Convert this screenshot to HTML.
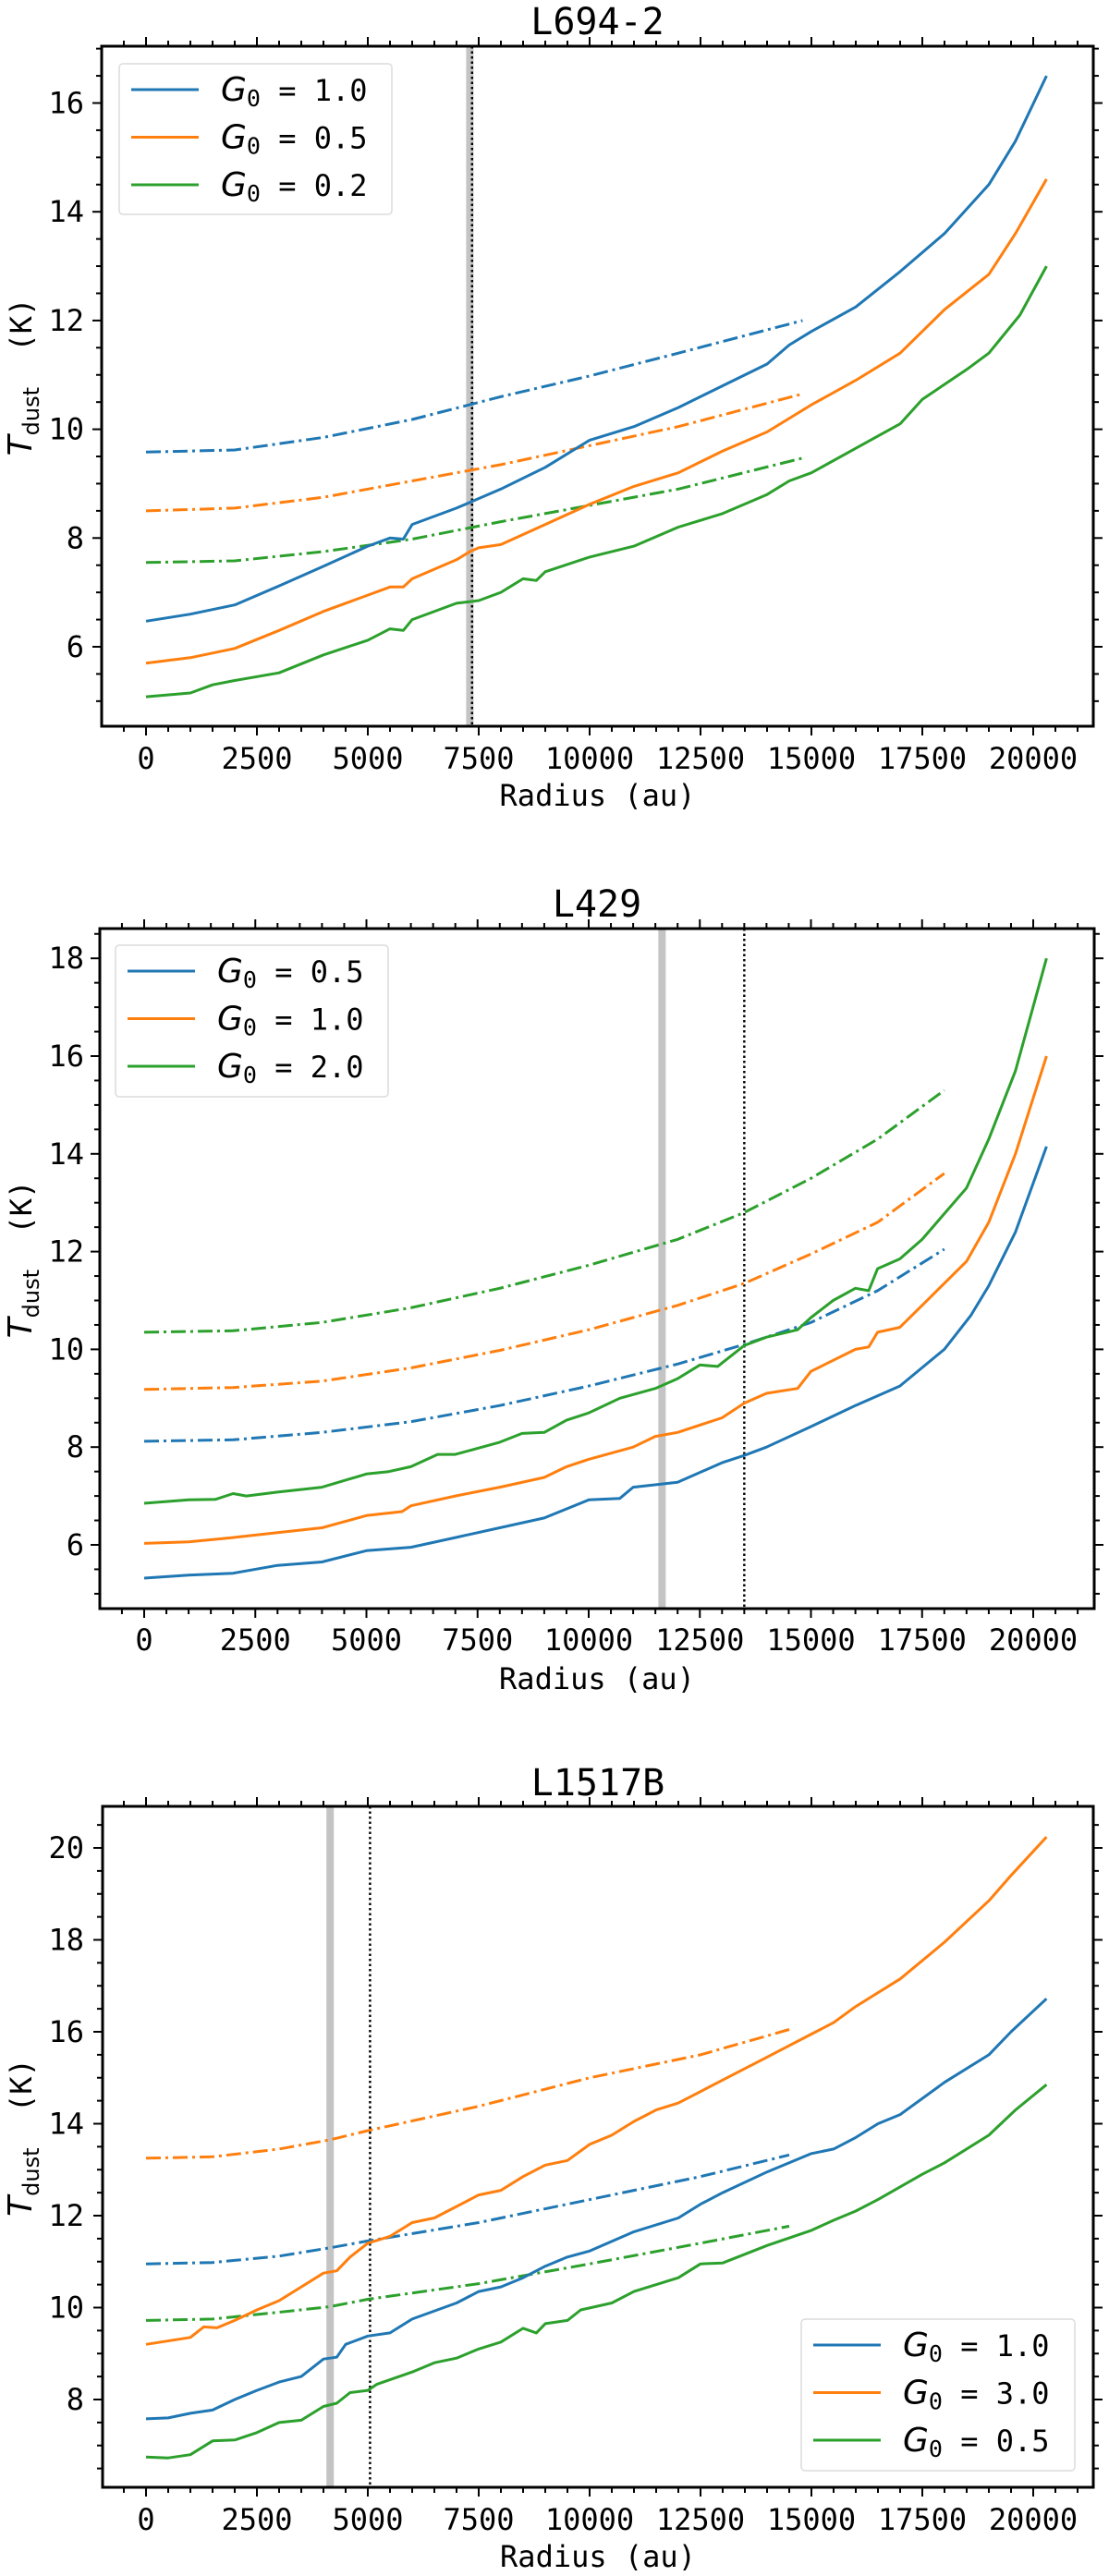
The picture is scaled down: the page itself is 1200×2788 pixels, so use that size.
<!DOCTYPE html>
<html><head><meta charset="utf-8"><style>
html,body{margin:0;padding:0;background:#fff;}
svg{display:block;}
text{font-family:"DejaVu Sans Mono","Liberation Mono",monospace;fill:#000;}
</style></head><body>
<svg id="fig" width="1200" height="2788" viewBox="0 0 1200 2788" xmlns="http://www.w3.org/2000/svg"></svg>
<script>
// ---------- Panel 1: L694-2 ----------
const p1_x_blue = [0,1000,2000,3000,4000,5000,5500,5800,6000,7000,8000,9000,10000,11000,12000,13000,14000,14500,15000,16000,17000,18000,19000,19600,20300];
const p1_y_blue = [6.47,6.6,6.77,7.12,7.48,7.85,8.0,7.98,8.25,8.55,8.9,9.3,9.8,10.05,10.4,10.8,11.2,11.55,11.8,12.25,12.9,13.6,14.5,15.3,16.5];
const p1_x_orange = [0,1000,2000,3000,4000,5000,5500,5800,6000,7000,7300,7500,8000,9000,10000,11000,12000,13000,14000,15000,16000,17000,18000,19000,19600,20300];
const p1_y_orange = [5.7,5.8,5.97,6.3,6.65,6.95,7.1,7.1,7.25,7.6,7.75,7.82,7.88,8.25,8.62,8.95,9.2,9.6,9.95,10.45,10.9,11.4,12.2,12.85,13.6,14.6];
const p1_x_green = [0,1000,1500,2000,3000,4000,5000,5500,5800,6000,7000,7500,8000,8500,8800,9000,10000,11000,12000,13000,14000,14500,15000,16000,17000,17500,18500,19000,19700,20300];
const p1_y_green = [5.08,5.15,5.3,5.38,5.52,5.85,6.12,6.33,6.3,6.5,6.8,6.85,7.0,7.25,7.22,7.38,7.65,7.85,8.2,8.45,8.8,9.05,9.2,9.65,10.1,10.55,11.1,11.4,12.1,13.0];
const p1_x_model = [0,2000,4000,6000,8000,10000,12000,14800];
const p1_m_blue = [9.58,9.62,9.85,10.18,10.6,10.98,11.4,12.0];
const p1_m_orange = [8.5,8.55,8.75,9.05,9.35,9.7,10.05,10.65];
const p1_m_green = [7.55,7.58,7.75,7.98,8.3,8.6,8.9,9.47];
const p1_labels = ["1.0","0.5","0.2"];
const p1_yticks = [6,8,10,12,14,16];
const p1_band = 7300, p1_dot = 7350;

// ---------- Panel 2: L429 ----------
const p2_x_blue = [0,1000,2000,3000,4000,5000,6000,7000,8000,9000,10000,10700,11000,12000,13000,13500,14000,15000,16000,17000,18000,18600,19000,19600,20300];
const p2_y_blue = [5.32,5.38,5.42,5.58,5.65,5.88,5.95,6.15,6.35,6.55,6.92,6.95,7.18,7.28,7.68,7.83,8.0,8.42,8.85,9.25,10.0,10.7,11.3,12.4,14.15];
const p2_x_orange = [0,1000,2000,3000,4000,5000,5800,6000,7000,8000,9000,9500,10000,11000,11500,12000,13000,13500,14000,14700,15000,16000,16300,16500,17000,17500,18500,19000,19600,20300];
const p2_y_orange = [6.03,6.06,6.15,6.25,6.35,6.6,6.68,6.8,7.0,7.18,7.38,7.6,7.75,8.0,8.22,8.3,8.6,8.9,9.1,9.2,9.55,10.0,10.05,10.35,10.45,10.9,11.8,12.6,14.0,16.0];
const p2_x_green = [0,1000,1600,2000,2300,3000,4000,5000,5500,6000,6600,7000,8000,8500,9000,9500,10000,10700,11500,12000,12500,12900,13500,14000,14700,15000,15500,16000,16300,16500,17000,17500,18500,19000,19600,20300];
const p2_y_green = [6.85,6.92,6.93,7.05,7.0,7.08,7.18,7.45,7.5,7.6,7.85,7.85,8.1,8.28,8.3,8.55,8.7,9.0,9.2,9.4,9.68,9.65,10.08,10.25,10.4,10.65,11.0,11.25,11.2,11.65,11.85,12.25,13.3,14.3,15.7,18.0];
const p2_x_model = [0,2000,4000,6000,8000,10000,12000,13500,15000,16500,18000];
const p2_m_blue = [8.12,8.15,8.3,8.52,8.85,9.25,9.7,10.1,10.55,11.2,12.05];
const p2_m_orange = [9.18,9.22,9.35,9.62,9.98,10.4,10.9,11.35,11.95,12.6,13.6];
const p2_m_green = [10.35,10.38,10.55,10.85,11.25,11.72,12.25,12.8,13.5,14.3,15.3];
const p2_labels = ["0.5","1.0","2.0"];
const p2_yticks = [6,8,10,12,14,16,18];
const p2_band = 11650, p2_dot = 13500;

// ---------- Panel 3: L1517B ----------
const p3_x_blue = [0,500,1000,1500,2000,2500,3000,3500,4000,4300,4500,5000,5500,6000,7000,7500,8000,8500,9000,9500,10000,11000,12000,12500,13000,14000,15000,15500,16000,16500,17000,18000,19000,19500,20300];
const p3_y_blue = [7.58,7.6,7.7,7.77,8.0,8.2,8.38,8.5,8.88,8.92,9.2,9.38,9.45,9.75,10.1,10.35,10.45,10.65,10.9,11.1,11.23,11.65,11.95,12.25,12.5,12.95,13.35,13.45,13.7,14.0,14.2,14.9,15.5,16.0,16.72];
const p3_x_orange = [0,1000,1300,1600,2000,2500,3000,3500,4000,4300,4600,5000,5500,6000,6500,7500,8000,8500,9000,9500,10000,10500,11000,11500,12000,12500,13000,14000,14500,15000,15500,16000,17000,18000,19000,19500,20300];
const p3_y_orange = [9.2,9.35,9.58,9.56,9.72,9.95,10.15,10.45,10.75,10.8,11.1,11.4,11.55,11.85,11.95,12.45,12.55,12.85,13.1,13.2,13.55,13.75,14.05,14.3,14.45,14.7,14.95,15.45,15.7,15.95,16.2,16.55,17.15,17.95,18.85,19.4,20.24];
const p3_x_green = [0,500,1000,1500,2000,2500,3000,3500,4000,4300,4600,5000,5200,6000,6500,7000,7500,8000,8500,8800,9000,9500,9800,10500,11000,12000,12500,13000,14000,15000,15500,16000,16500,17500,18000,19000,19600,20300];
const p3_y_green = [6.75,6.73,6.8,7.1,7.12,7.28,7.5,7.55,7.85,7.92,8.15,8.2,8.33,8.6,8.8,8.9,9.1,9.25,9.55,9.45,9.65,9.72,9.95,10.1,10.35,10.65,10.95,10.97,11.35,11.68,11.9,12.1,12.35,12.9,13.15,13.75,14.3,14.85];
const p3_x_model = [0,1500,3000,4150,5000,7500,10000,12500,14500];
const p3_m_blue = [10.95,10.98,11.12,11.3,11.45,11.85,12.35,12.85,13.32];
const p3_m_orange = [13.25,13.28,13.45,13.65,13.85,14.38,15.0,15.5,16.05];
const p3_m_green = [9.72,9.75,9.9,10.02,10.18,10.52,10.95,11.4,11.77];
const p3_labels = ["1.0","3.0","0.5"];
const p3_yticks = [8,10,12,14,16,18,20];
const p3_band = 4150, p3_dot = 5050;

const xticks = [0,2500,5000,7500,10000,12500,15000,17500,20000];
const C = {blue:"#1f77b4", orange:"#ff7f0e", green:"#2ca02c"};
const NS = "http://www.w3.org/2000/svg";
const svg = document.getElementById('fig');

function mk(tag, attrs, parent){
  const e = document.createElementNS(NS, tag);
  for (const k in attrs) e.setAttribute(k, attrs[k]);
  (parent||svg).appendChild(e);
  return e;
}

function panel(cfg){
  const g = mk('g', {});
  
  
  const L=cfg.left, R=cfg.right, T=cfg.top, B=cfg.bottom;
  const xs = v => cfg.x0 + v*(cfg.x20k-cfg.x0)/20000;
  const ys = v => cfg.yRef + (cfg.yRefVal - v)*cfg.pk;
  const cid = 'clip-'+cfg.name;
  const cp = mk('clipPath', {id:cid}, g);
  mk('rect', {x:L, y:T, width:R-L, height:B-T}, cp);
  const plot = mk('g', {'clip-path':'url(#'+cid+')'}, g);

  const band = mk('line', {x1:xs(cfg.band), x2:xs(cfg.band), y1:T, y2:B, stroke:'#c4c4c4', 'stroke-width':8}, plot);
  
  
  const dot = mk('line', {x1:xs(cfg.dot), x2:xs(cfg.dot), y1:T, y2:B, stroke:'#000', 'stroke-width':2.4, 'stroke-dasharray':'2.5,3'}, plot);
  
  

  function line(xsArr, ysArr, color, dash, nm){
    const d = xsArr.map((x,i)=>(i?'L':'M')+xs(x).toFixed(1)+','+ys(ysArr[i]).toFixed(1)).join('');
    const p = mk('path', {d:d, fill:'none', stroke:color, 'stroke-width':3, 'stroke-linejoin':'round'}, plot);
    if (dash) p.setAttribute('stroke-dasharray', dash);
    
    
  }
  const dd = '16,5,3,5';
  line(cfg.xm, cfg.mb, C.blue, dd, 'model-line-blue');
  line(cfg.xm, cfg.mo, C.orange, dd, 'model-line-orange');
  line(cfg.xm, cfg.mg, C.green, dd, 'model-line-green');
  line(cfg.xb, cfg.yb, C.blue, null, 'series-line-blue');
  line(cfg.xo, cfg.yo, C.orange, null, 'series-line-orange');
  line(cfg.xg, cfg.yg, C.green, null, 'series-line-green');

  const tk = mk('g', {stroke:'#000', 'stroke-width':2}, g);
  for (let v=-1000; v<=21500; v+=500){
    const x = xs(v); if (x<L+1||x>R-1) continue;
    const major = v%2500===0; const len = major?10:6;
    mk('line',{x1:x,x2:x,y1:B,y2:B+len},tk);
    mk('line',{x1:x,x2:x,y1:T,y2:T-len},tk);
  }
  for (let v=0; v<=25; v+=0.5){
    const y = ys(v); if (y<T+1||y>B-1) continue;
    const major = Math.abs(v%2)<1e-6; const len = major?10:6;
    mk('line',{x1:L,x2:L-len,y1:y,y2:y},tk);
    mk('line',{x1:R,x2:R+len,y1:y,y2:y},tk);
  }
  xticks.forEach(v=>{
    const t = mk('text',{x:xs(v), y:cfg.xtY, 'text-anchor':'middle', 'font-size':32}, g);
    t.textContent = v;
    
    
  });
  cfg.yticks.forEach(v=>{
    const t = mk('text',{x:91, y:ys(v)+11, 'text-anchor':'end', 'font-size':32}, g);
    t.textContent = v;
    
    
  });

  const fr = mk('rect',{x:L, y:T, width:R-L, height:B-T, fill:'none', stroke:'#000', 'stroke-width':3}, g);
  
  

  const ti = mk('text',{x:(L+R)/2, y:cfg.titleY, 'text-anchor':'middle', 'font-size':40}, g);
  ti.textContent = cfg.title;
  
  
  const xl = mk('text',{x:(L+R)/2, y:cfg.xlY, 'text-anchor':'middle', 'font-size':32}, g);
  xl.textContent = 'Radius (au)';
  
  
  const yc = (T+B)/2 - 10;
  const yl = mk('text',{x:0, y:0, transform:'translate(34,'+yc+') rotate(-90)', 'text-anchor':'middle', 'font-size':32}, g);
  yl.innerHTML = '<tspan font-family="DejaVu Sans" font-style="italic" font-size="36">T</tspan><tspan font-family="DejaVu Sans" font-size="24" dy="8">dust</tspan><tspan dy="-8" xml:space="preserve">  (K)</tspan>';
  
  

  const lg = mk('g',{}, g);
  
  
  mk('rect',{x:cfg.lgx, y:cfg.lgy, width:cfg.lgw, height:cfg.lgh, rx:4, fill:'#fff', 'fill-opacity':0.85, stroke:'#dcdcdc', 'stroke-width':1.5}, lg);
  const cols=[C.blue,C.orange,C.green];
  cfg.labels.forEach((lab,i)=>{
    const ry = cfg.lgy + 28 + i*51.5;
    const e = mk('g',{}, lg);
    
    
    mk('line',{x1:cfg.lgx+13, x2:cfg.lgx+86, y1:ry, y2:ry, stroke:cols[i], 'stroke-width':3}, e);
    const t = mk('text',{x:cfg.lgx+110, y:ry+12, 'font-size':32}, e);
    t.innerHTML = '<tspan font-family="DejaVu Sans" font-style="italic" font-size="36">G</tspan><tspan font-size="25" dy="6">0</tspan><tspan dy="-6" xml:space="preserve"> = '+lab+'</tspan>';
  });
}

panel({name:'l694-2', title:'L694-2', left:110, right:1183, top:50, bottom:786, x0:158, x20k:1118,
  yRef:700, yRefVal:6, pk:58.85, titleY:37, xtY:832, xlY:872, yticks:p1_yticks,
  band:p1_band, dot:p1_dot, labels:p1_labels, lgx:129, lgy:69, lgw:295, lgh:163,
  xb:p1_x_blue, yb:p1_y_blue, xo:p1_x_orange, yo:p1_y_orange, xg:p1_x_green, yg:p1_y_green,
  xm:p1_x_model, mb:p1_m_blue, mo:p1_m_orange, mg:p1_m_green});
panel({name:'l429', title:'L429', left:108, right:1184, top:1005, bottom:1741, x0:156, x20k:1118,
  yRef:1672, yRefVal:6, pk:52.9, titleY:992, xtY:1786, xlY:1828, yticks:p2_yticks,
  band:p2_band, dot:p2_dot, labels:p2_labels, lgx:125, lgy:1023, lgw:295, lgh:164,
  xb:p2_x_blue, yb:p2_y_blue, xo:p2_x_orange, yo:p2_y_orange, xg:p2_x_green, yg:p2_y_green,
  xm:p2_x_model, mb:p2_m_blue, mo:p2_m_orange, mg:p2_m_green});
panel({name:'l1517b', title:'L1517B', left:111, right:1183, top:1955, bottom:2692, x0:158, x20k:1118,
  yRef:2597, yRefVal:8, pk:49.75, titleY:1943, xtY:2738, xlY:2778, yticks:p3_yticks,
  band:p3_band, dot:p3_dot, labels:p3_labels, lgx:867, lgy:2510, lgw:296, lgh:164,
  xb:p3_x_blue, yb:p3_y_blue, xo:p3_x_orange, yo:p3_y_orange, xg:p3_x_green, yg:p3_y_green,
  xm:p3_x_model, mb:p3_m_blue, mo:p3_m_orange, mg:p3_m_green});
</script>
</body></html>
